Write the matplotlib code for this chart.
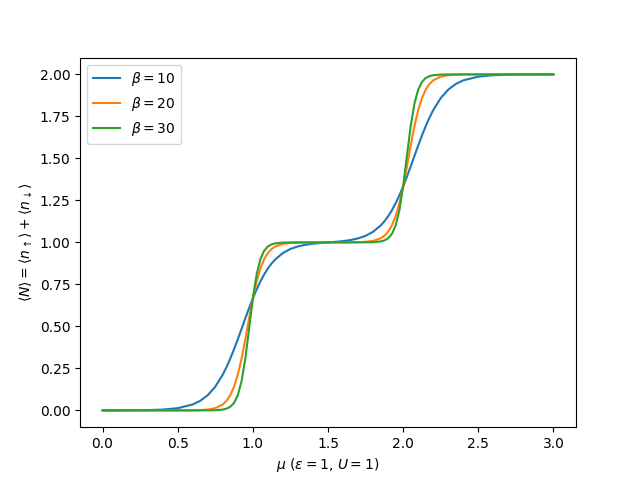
import numpy as np
import matplotlib
matplotlib.use("Agg")
import matplotlib.pyplot as plt

# chemical potential grid
mu = [0.0, 0.1, 0.2, 0.3, 0.4, 0.5, 0.6, 0.65, 0.7, 0.75, 0.8, 0.825, 0.85, 0.875,
      0.9, 0.925, 0.95, 0.975, 1.0, 1.025, 1.05, 1.075, 1.1, 1.125, 1.15, 1.2,
      1.25, 1.3, 1.35, 1.4, 1.45, 1.5,
      1.55, 1.6, 1.65, 1.7, 1.75, 1.8, 1.85, 1.875, 1.9, 1.925, 1.95, 1.975,
      2.0, 2.025, 2.05, 2.075, 2.1, 2.125, 2.15, 2.175, 2.2, 2.25, 2.3, 2.35,
      2.4, 2.5, 2.6, 2.7, 2.8, 2.9, 3.0]

N_b10 = [0.0001, 0.0002, 0.0007, 0.0018, 0.0049, 0.0133, 0.0353, 0.0570, 0.0906,
         0.1410, 0.2130, 0.2579, 0.3086, 0.3643, 0.4239, 0.4858, 0.5481, 0.6090,
         0.6667, 0.7197, 0.7673, 0.8089, 0.8446, 0.8747, 0.8996, 0.9368, 0.9609,
         0.9762, 0.9859, 0.9922, 0.9965, 1.0,
         1.0035, 1.0078, 1.0141, 1.0238, 1.0391, 1.0632, 1.1004, 1.1253, 1.1554,
         1.1911, 1.2327, 1.2803, 1.3333, 1.3910, 1.4519, 1.5142, 1.5761, 1.6357,
         1.6914, 1.7421, 1.7870, 1.8590, 1.9094, 1.9430, 1.9647, 1.9867, 1.9951,
         1.9982, 1.9993, 1.9998, 1.9999]

N_b20 = [0.0, 0.0, 0.0, 0.0, 0.0, 0.0001, 0.0007, 0.0018, 0.0049, 0.0133, 0.0353,
         0.0570, 0.0906, 0.1410, 0.2130, 0.3086, 0.4239, 0.5481, 0.6667, 0.7673,
         0.8446, 0.8996, 0.9366, 0.9606, 0.9757, 0.9909, 0.9966, 0.9988, 0.9995,
         0.9998, 1.0, 1.0,
         1.0, 1.0002, 1.0005, 1.0012, 1.0034, 1.0091, 1.0243, 1.0394, 1.0634,
         1.1004, 1.1554, 1.2327, 1.3333, 1.4519, 1.5761, 1.6914, 1.7870, 1.8590,
         1.9094, 1.9430, 1.9647, 1.9867, 1.9951, 1.9982, 1.9993, 1.9999, 2.0,
         2.0, 2.0, 2.0, 2.0]

N_b30 = [0.0, 0.0, 0.0, 0.0, 0.0, 0.0, 0.0, 0.0001, 0.0002, 0.0011, 0.0049,
         0.0104, 0.0217, 0.0449, 0.0906, 0.1741, 0.3086, 0.4858, 0.6667, 0.8089,
         0.8996, 0.9499, 0.9757, 0.9884, 0.9945, 0.9988, 0.9997, 0.9999, 1.0,
         1.0, 1.0, 1.0,
         1.0, 1.0, 1.0, 1.0001, 1.0003, 1.0012, 1.0055, 1.0116, 1.0243, 1.0501,
         1.1004, 1.1911, 1.3333, 1.5142, 1.6914, 1.8259, 1.9094, 1.9551, 1.9783,
         1.9896, 1.9951, 1.9989, 1.9998, 1.9999, 2.0, 2.0, 2.0, 2.0, 2.0, 2.0, 2.0]

betas = [10, 20, 30]
curves = [N_b10, N_b20, N_b30]

fig, ax = plt.subplots(figsize=(6.4, 4.8), dpi=100)
for b, n in zip(betas, curves):
    ax.plot(mu, n, label=r"$\beta = %d$" % b)

ax.set_xlabel(r"$\mu$ ($\varepsilon = 1$, $U = 1$)")
ax.set_ylabel(r"$\langle N\rangle = \langle n_\uparrow\rangle + \langle n_\downarrow\rangle$")
ax.legend(loc="upper left")
fig.savefig("out.png")
